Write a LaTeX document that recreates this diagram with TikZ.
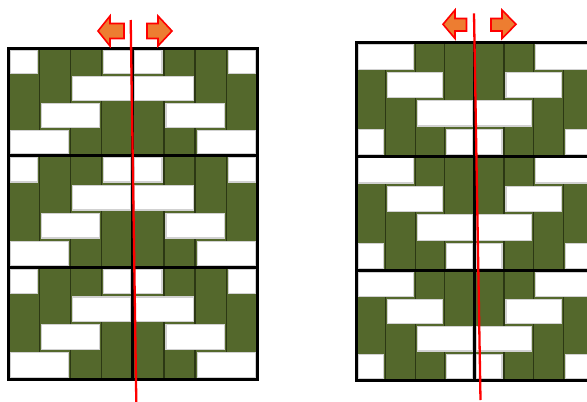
\documentclass[tikz,border=0pt]{standalone}
\definecolor{weavegreen}{RGB}{84,104,44}
\definecolor{weavedark}{RGB}{44,56,20}
\definecolor{arroworange}{RGB}{237,125,49}
\tikzset{
  whitecell/.style={fill=white, draw=black!18, line width=1.2pt},
  frameline/.style={draw=black, line width=3pt},
  midline/.style={draw=black, line width=2.5pt},
  redline/.style={draw=red, line width=2.3pt},
  fatarrow/.style={fill=arroworange, draw=red, line width=1.6pt, line join=miter},
  colsep/.style={draw=weavedark, line width=1.3pt}
}
\newcommand{\drawweave}[4]{%
  \foreach \t/\hh in {#3}{%
    \foreach \k/\a/\b in {#4}{%
      \pgfmathsetmacro{\ya}{\t+(\k-1)*\hh/4+1.6}%
      \pgfmathsetmacro{\yb}{\t+\k*\hh/4-1.6}%
      \draw[whitecell] ({#1+(\a-1)*#2+2},\ya) rectangle ({#1+\b*#2-2},\yb);
      \draw[whitecell] ({#1+(8-\b)*#2+2},\ya) rectangle ({#1+(9-\a)*#2-2},\yb);
    }%
  }%
}
\begin{document}
\begin{tikzpicture}[x=1pt,y=-1pt]
\useasboundingbox (0,0) rectangle (587,402);
\clip (0,0) rectangle (587,402);
\fill[white] (0,0) rectangle (587,402);

% ---------- left panel ----------
\fill[weavegreen] (8,48.5) rectangle (257.5,379);
\foreach \i in {1,...,7} \draw[colsep] ({8+\i*31.19},48.5) -- ({8+\i*31.19},379);
\drawweave{8}{31.19}{48.5/107, 155.5/112, 267.5/111.5}{1/1/1, 1/4/4, 2/3/4, 3/2/3, 4/1/2}
\draw[frameline] (8,48.5) rectangle (257.5,379);
\draw[frameline] (8,155.5) -- (257.5,155.5);
\draw[frameline] (8,267.5) -- (257.5,267.5);
\draw[midline] (132.7,48.5) -- (132.7,379);

% ---------- right panel ----------
\fill[weavegreen] (356,42.3) rectangle (592.8,380);
\foreach \i in {1,...,7} \draw[colsep] ({356+\i*29.6},42.3) -- ({356+\i*29.6},380);
\drawweave{356}{29.6}{42.3/113.7, 156/114.3, 270.3/109.7}{1/1/2, 2/2/3, 3/3/4, 4/1/1, 4/4/4}
\draw[frameline] (356,42.3) rectangle (592.8,380);
\draw[frameline] (356,156) -- (592.8,156);
\draw[frameline] (356,270.3) -- (592.8,270.3);
\draw[midline] (474.3,42.3) -- (474.3,380);

% ---------- red lines ----------
\coordinate (L1) at (130.7,20);
\coordinate (L2) at (136.3,402);
\draw[redline] (L1) -- (L2);
\coordinate (R1) at (474,13.3);
\coordinate (R2) at (480.5,400);
\draw[redline] (R1) -- (R2);

% ---------- arrows ----------
\draw[fatarrow] (98,31) -- (110,16) -- (110,23.5) -- (124,23.5) -- (124,38.5) -- (110,38.5) -- (110,46) -- cycle;
\draw[fatarrow] (147,23.5) -- (158,23.5) -- (158,16) -- (172,31) -- (158,46) -- (158,38.5) -- (147,38.5) -- cycle;
\draw[fatarrow] (443,24.3) -- (455,10) -- (455,18.5) -- (466.5,18.5) -- (466.5,31) -- (455,31) -- (455,38.5) -- cycle;
\draw[fatarrow] (491,18.5) -- (502,18.5) -- (502,10) -- (516,24.3) -- (502,38.5) -- (502,31) -- (491,31) -- cycle;
\end{tikzpicture}
\end{document}
